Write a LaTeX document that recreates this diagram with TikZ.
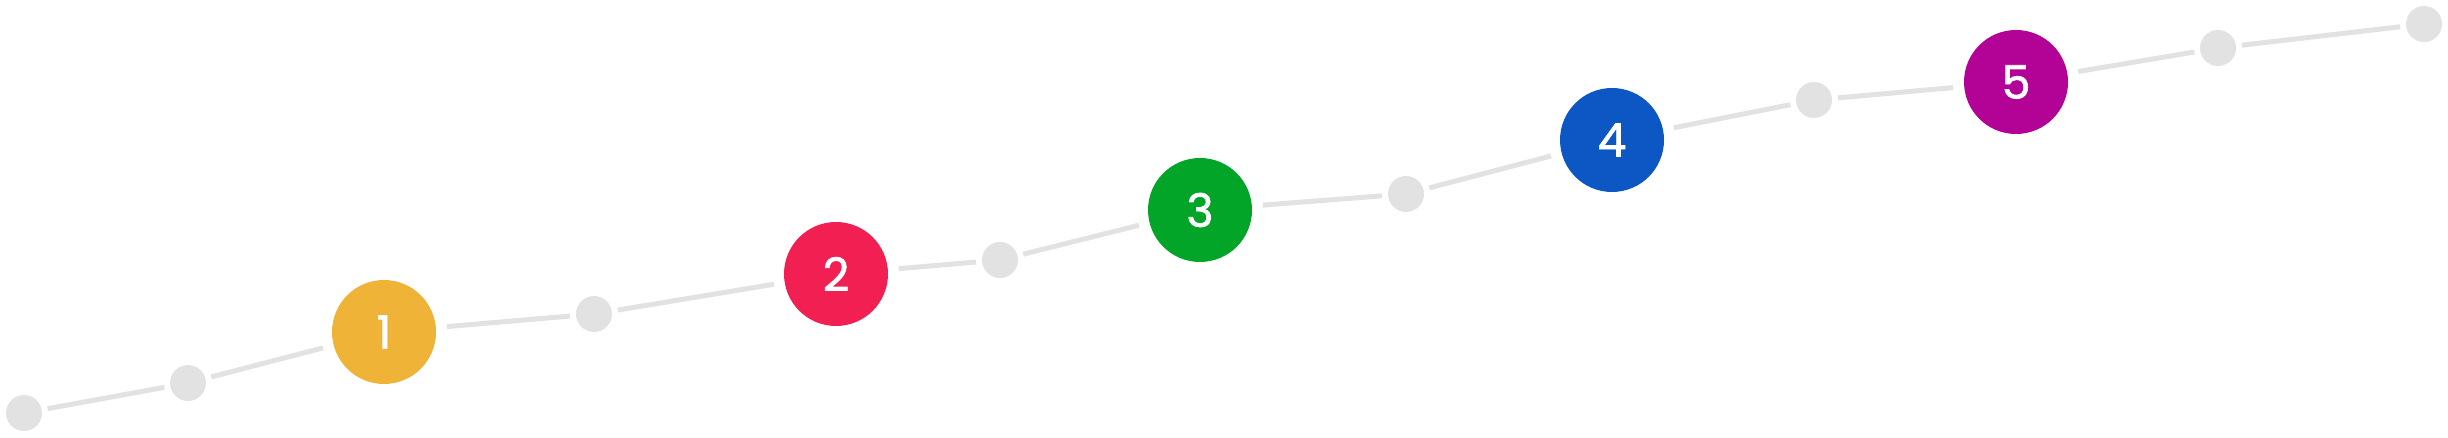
\documentclass[tikz,border=0pt]{standalone}
\usepackage{fontspec}
\setmainfont{Poppins}
\newfontfamily\digitfont{Poppins}[FakeBold=1.5]
\definecolor{dotgray}{HTML}{E2E2E2}
\definecolor{cyellow}{HTML}{EFB338}
\definecolor{cred}{HTML}{F21F52}
\definecolor{cgreen}{HTML}{03A528}
\definecolor{cblue}{HTML}{0D57C5}
\definecolor{cmagenta}{HTML}{B20396}
\tikzset{
  dot/.style={circle, fill=dotgray, minimum size=36pt, inner sep=0pt, outer sep=6pt},
  stepdot/.style={circle, fill=#1, minimum size=104pt, inner sep=0pt, outer sep=11pt,
    text=white, font=\digitfont\fontsize{46}{54}\selectfont},
  link/.style={draw=dotgray, line width=5pt}
}
\begin{document}
\begin{tikzpicture}[x=1pt,y=-1pt]
\useasboundingbox (0,0) rectangle (2448,438);
\node[dot] (g1) at (24,413) {};
\node[dot] (g2) at (188,383) {};
\node[stepdot=cyellow] (c1) at (384,332) {1};
\node[dot] (g3) at (594,314) {};
\node[stepdot=cred] (c2) at (836,274) {2};
\node[dot] (g4) at (1000,260) {};
\node[stepdot=cgreen] (c3) at (1200,210) {3};
\node[dot] (g5) at (1406,194) {};
\node[stepdot=cblue] (c4) at (1612,140) {4};
\node[dot] (g6) at (1814,100) {};
\node[stepdot=cmagenta] (c5) at (2016,82) {5};
\node[dot] (g7) at (2218,48) {};
\node[dot] (g8) at (2424,24) {};
\draw[link] (g1) -- (g2);
\draw[link] (g2) -- (c1);
\draw[link] (c1) -- (g3);
\draw[link] (g3) -- (c2);
\draw[link] (c2) -- (g4);
\draw[link] (g4) -- (c3);
\draw[link] (c3) -- (g5);
\draw[link] (g5) -- (c4);
\draw[link] (c4) -- (g6);
\draw[link] (g6) -- (c5);
\draw[link] (c5) -- (g7);
\draw[link] (g7) -- (g8);
\end{tikzpicture}
\end{document}
